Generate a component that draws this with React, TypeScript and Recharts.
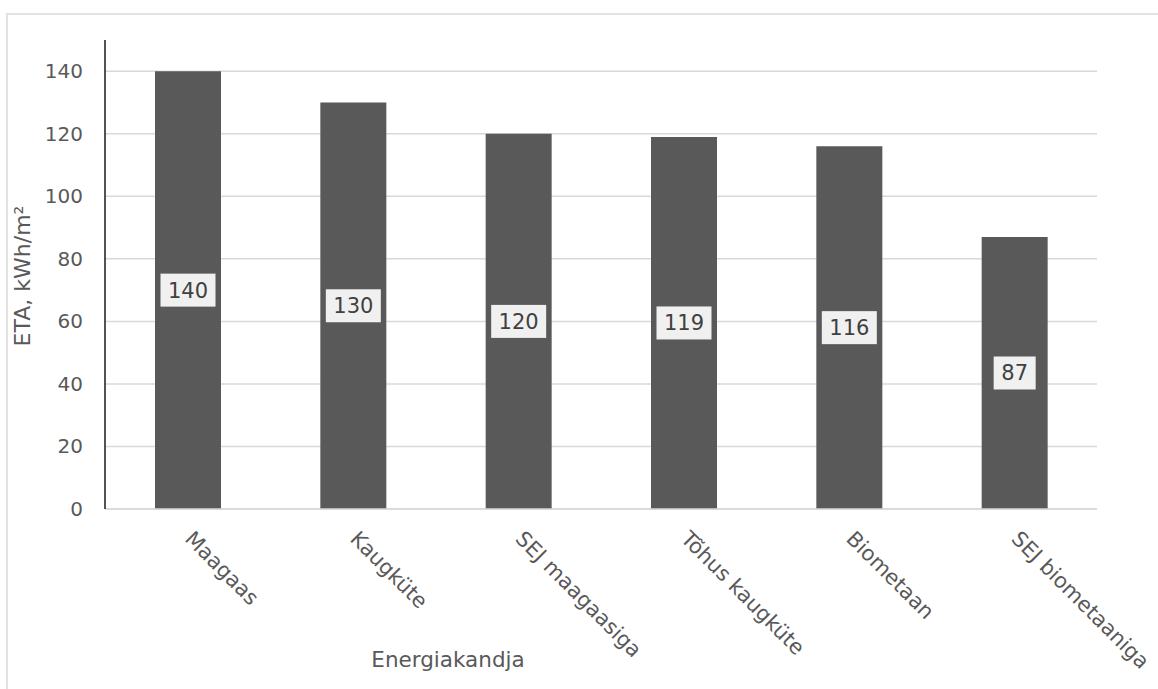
import React from 'react';
import { BarChart, Bar, XAxis, YAxis, CartesianGrid, LabelList, Label } from 'recharts';

// Energy carriers and their primary energy (ETA) values
const categories = ['Maagaas', 'Kaugküte', 'SEJ maagaasiga', 'Tõhus kaugküte', 'Biometaan', 'SEJ biometaaniga'];
const etaValues = [140, 130, 120, 119, 116, 87];
const yTicks = [0, 20, 40, 60, 80, 100, 120, 140];

const data = categories.map((name, i) => ({ name, eta: etaValues[i] }));

const FONT = '"DejaVu Sans", Verdana, sans-serif';
const TEXT = '#595959';

const XTick = (props: any) => {
  const { x, y, payload } = props;
  const ax = x - 4;
  const ay = y + 31;
  return (
    <text
      x={ax}
      y={ay}
      transform={`rotate(45 ${ax} ${ay})`}
      textAnchor="start"
      fontFamily={FONT}
      fontSize={21}
      fill={TEXT}
    >
      {payload.value}
    </text>
  );
};

const YTick = (props: any) => {
  const { x, y, payload } = props;
  return (
    <text x={x} y={y} dy={7} textAnchor="end" fontFamily={FONT} fontSize={20} fill={TEXT}>
      {payload.value}
    </text>
  );
};

const ValueBox = (props: any) => {
  const { x, y, width, height, value } = props;
  const cx = x + width / 2;
  const cy = y + height / 2;
  const w = String(value).length * 13 + 16;
  const h = 33;
  return (
    <g>
      <rect x={cx - w / 2} y={cy - h / 2} width={w} height={h} fill="#f0f0f0" />
      <text x={cx} y={cy} dy={7.5} textAnchor="middle" fontFamily={FONT} fontSize={21} fill="#404040">
        {value}
      </text>
    </g>
  );
};

const YTitle = (props: any) => {
  const vb = props.viewBox;
  const tx = vb.x + 30;
  const ty = 276;
  return (
    <text
      x={tx}
      y={ty}
      transform={`rotate(-90 ${tx} ${ty})`}
      textAnchor="middle"
      fontFamily={FONT}
      fontSize={22}
      fill={TEXT}
    >
      ETA, kWh/m²
    </text>
  );
};

const XTitle = (props: any) => {
  const vb = props.viewBox;
  return (
    <text x={448} y={vb.y + 158} textAnchor="middle" fontFamily={FONT} fontSize={21.5} fill={TEXT}>
      Energiakandja
    </text>
  );
};

export default function App() {
  return (
    <div style={{ position: 'fixed', left: 0, top: 0, width: 1158, height: 689, overflow: 'hidden', background: '#fff' }}>
      {/* chart area frame: top and left edges */}
      <div style={{ position: 'absolute', left: 6, top: 13, width: 1152, height: 2, background: '#e2e2e2' }} />
      <div style={{ position: 'absolute', left: 6, top: 13, width: 2, height: 676, background: '#e2e2e2' }} />
      <div style={{ position: 'absolute', left: 0, top: 0 }}>
        <BarChart width={1158} height={689} data={data} margin={{ top: 40, right: 61, bottom: 0, left: 0 }}>
          <CartesianGrid
            horizontal
            vertical={false}
            horizontalValues={yTicks}
            stroke="#d9d9d9"
            strokeWidth={1.5}
          />
          <XAxis
            dataKey="name"
            height={180}
            axisLine={{ stroke: '#d9d9d9', strokeWidth: 1.5 }}
            tickLine={false}
            tickSize={0}
            tickMargin={0}
            interval={0}
            tick={<XTick />}
          >
            <Label content={<XTitle />} />
          </XAxis>
          <YAxis
            width={105}
            domain={[0, 150]}
            ticks={yTicks}
            interval={0}
            axisLine={{ stroke: '#1a1a1a', strokeWidth: 1.5 }}
            tickLine={false}
            tickSize={0}
            tickMargin={22}
            tick={<YTick />}
          >
            <Label content={<YTitle />} />
          </YAxis>
          <Bar dataKey="eta" fill="#595959" barSize={66} isAnimationActive={false}>
            <LabelList dataKey="eta" content={<ValueBox />} />
          </Bar>
        </BarChart>
      </div>
    </div>
  );
}
